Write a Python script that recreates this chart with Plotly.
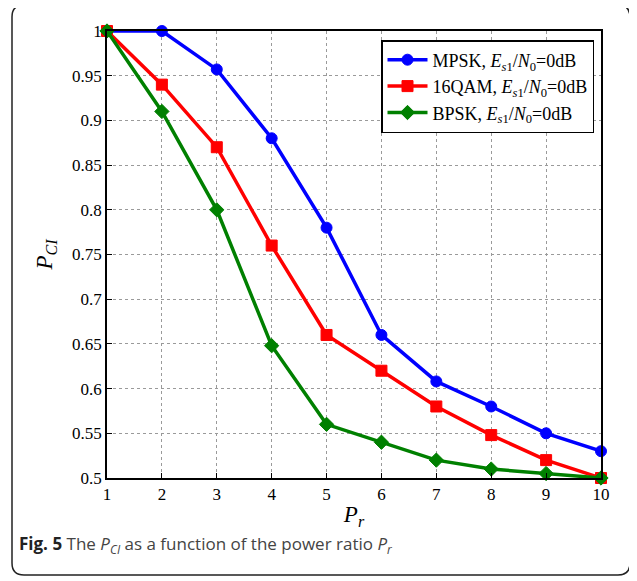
import plotly.graph_objects as go

pr = [1, 2, 3, 4, 5, 6, 7, 8, 9, 10]
mpsk = [1.0, 1.0, 0.957, 0.88, 0.78, 0.66, 0.608, 0.58, 0.55, 0.53]
qam16 = [1.0, 0.94, 0.87, 0.76, 0.66, 0.62, 0.58, 0.548, 0.52, 0.5]
bpsk = [1.0, 0.91, 0.80, 0.648, 0.56, 0.54, 0.52, 0.51, 0.505, 0.5]
ytick_vals = [0.5, 0.55, 0.6, 0.65, 0.7, 0.75, 0.8, 0.85, 0.9, 0.95, 1.0]
ytick_text = ["0.5", "0.55", "0.6", "0.65", "0.7", "0.75", "0.8", "0.85", "0.9", "0.95", "1"]
series_names = [
    "MPSK, <i>E</i><sub><i>s</i>1</sub>/<i>N</i><sub>0</sub>=0dB",
    "16QAM, <i>E</i><sub><i>s</i>1</sub>/<i>N</i><sub>0</sub>=0dB",
    "BPSK, <i>E</i><sub><i>s</i>1</sub>/<i>N</i><sub>0</sub>=0dB",
]

SERIF = "Liberation Serif, Times New Roman, serif"

# the page body adds an 8px offset; work in reference pixel coords minus that
OFF = 8
W, H = 637 - OFF, 581 - OFF
L, R, T, B = 107 - OFF, 36, 31 - OFF, 103
pw, ph = W - L - R, H - T - B


def px(x):
    return (x - OFF - L) / pw


def py(y):
    return (H - B - (y - OFF)) / ph


fig = go.Figure()
styles = [("#0000ff", "circle"), ("#ff0000", "square"), ("#008000", "diamond")]
for name, ys, (col, sym) in zip(series_names, [mpsk, qam16, bpsk], styles):
    fig.add_trace(go.Scatter(
        x=pr, y=ys, name=name, mode="lines+markers",
        line=dict(color=col, width=3.5),
        marker=dict(symbol=sym, size=11, color=col, line=dict(color=col, width=1)),
        cliponaxis=False,
    ))

# rounded frame
x0, x1, y0, y1, r = 12, 630, 5, 575, 12
path = (
    f"M {px(x0 + r)},{py(y0)} L {px(x1 - r)},{py(y0)} "
    f"Q {px(x1)},{py(y0)} {px(x1)},{py(y0 + r)} "
    f"L {px(x1)},{py(y1 - r)} Q {px(x1)},{py(y1)} {px(x1 - r)},{py(y1)} "
    f"L {px(x0 + r)},{py(y1)} Q {px(x0)},{py(y1)} {px(x0)},{py(y1 - r)} "
    f"L {px(x0)},{py(y0 + r)} Q {px(x0)},{py(y0)} {px(x0 + r)},{py(y0)} Z"
)
fig.add_shape(type="path", path=path, xref="paper", yref="paper",
              line=dict(color="#222222", width=1.5), layer="below")

fig.add_annotation(
    text="<b><span style='color:#222222'>Fig. 5</span></b> The <i>P</i><sub><i>CI</i></sub> as a function of the power ratio <i>P</i><sub><i>r</i></sub>",
    xref="paper", yref="paper", x=px(17), y=py(544), xanchor="left", yanchor="middle",
    showarrow=False, font=dict(family="Open Sans", size=17, color="#444444"),
)

axis_common = dict(
    showline=True, linecolor="black", linewidth=1.5, mirror=True,
    ticks="inside", ticklen=5, tickcolor="black",
    showgrid=True, gridcolor="#9a9a9a", griddash="dot", gridwidth=1,
    zeroline=False,
    tickfont=dict(family=SERIF, size=17, color="black"),
)

fig.update_layout(
    width=W, height=H,
    margin=dict(l=L, r=R, t=T, b=B),
    paper_bgcolor="white", plot_bgcolor="white",
    font=dict(family=SERIF),
    showlegend=True,
    legend=dict(
        x=px(594), y=py(40), xanchor="right", yanchor="top",
        xref="paper", yref="paper",
        bgcolor="white", bordercolor="black", borderwidth=1.5,
        font=dict(family=SERIF, size=18, color="black"),
        tracegroupgap=0, itemwidth=40,
    ),
    xaxis=dict(
        range=[1, 10], tickvals=pr,
        title=dict(text="<i>P</i><sub><i>r</i></sub>", standoff=3,
                   font=dict(family=SERIF, size=23, color="black")),
        **axis_common,
    ),
    yaxis=dict(
        range=[0.5, 1.0], tickvals=ytick_vals, ticktext=ytick_text,
        title=dict(text="<i>P</i><sub><i>CI</i></sub>", standoff=13,
                   font=dict(family=SERIF, size=23, color="black")),
        **axis_common,
    ),
)

fig.write_html("out.html")
